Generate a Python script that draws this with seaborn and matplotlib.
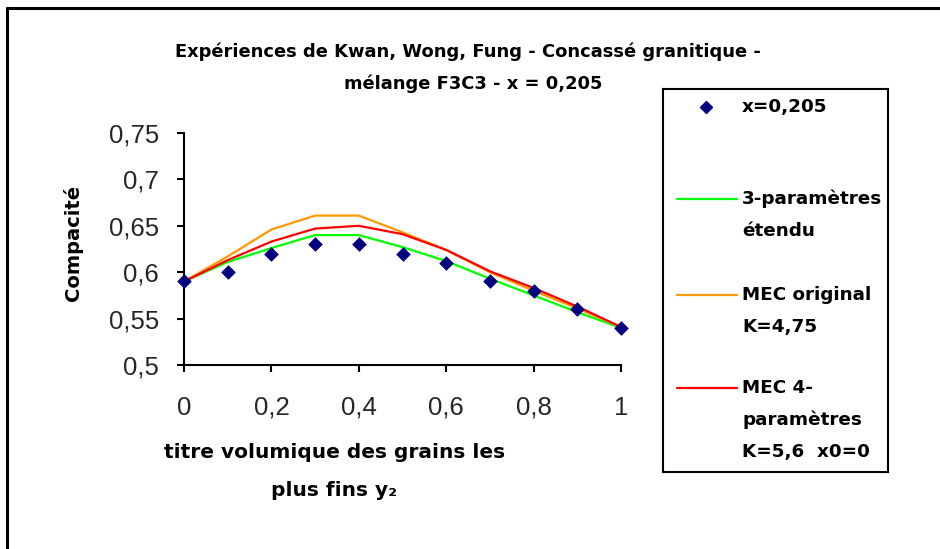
import matplotlib
matplotlib.use('Agg')
import matplotlib.pyplot as plt
import seaborn as sns
from matplotlib.lines import Line2D

# titre volumique des grains les plus fins
y2 = [0.0, 0.1, 0.2, 0.3, 0.4, 0.5, 0.6, 0.7, 0.8, 0.9, 1.0]
# experimental points, x = 0,205
measured = [0.59, 0.60, 0.62, 0.63, 0.63, 0.62, 0.61, 0.59, 0.58, 0.56, 0.54]
# model curves
three_param = [0.59, 0.611, 0.626, 0.640, 0.640, 0.627, 0.612, 0.593, 0.575, 0.557, 0.54]
mec_original = [0.59, 0.617, 0.646, 0.661, 0.661, 0.643, 0.624, 0.600, 0.580, 0.561, 0.541]
mec_4param = [0.59, 0.613, 0.633, 0.647, 0.650, 0.641, 0.624, 0.601, 0.583, 0.563, 0.541]

y_ticks = [0.5, 0.55, 0.6, 0.65, 0.7, 0.75]
y_tick_labels = ['0,5', '0,55', '0,6', '0,65', '0,7', '0,75']
x_ticks = [0, 0.2, 0.4, 0.6, 0.8, 1.0]
x_tick_labels = ['0', '0,2', '0,4', '0,6', '0,8', '1']

sns.set_theme(style='white')
plt.rcParams['font.family'] = ['DejaVu Sans']

W, H = 940, 549
fig = plt.figure(figsize=(W / 100, H / 100), dpi=100)


def fx(px):
    return px / W


def fy(py):
    return 1 - py / H


ax = fig.add_axes([fx(184), fy(365), fx(621) - fx(184), fy(133) - fy(365)])

sns.lineplot(x=y2, y=three_param, ax=ax, color='#00ff00', lw=1.6)
sns.lineplot(x=y2, y=mec_original, ax=ax, color='#ff9900', lw=1.6)
sns.lineplot(x=y2, y=mec_4param, ax=ax, color='#ff0000', lw=1.6)
sns.scatterplot(x=y2, y=measured, ax=ax, marker='D', s=48, color='#000080',
                edgecolor='#000080', linewidth=0.5, clip_on=False, zorder=5)
for line in ax.lines:
    line.set_clip_on(False)

ax.set_xlim(0, 1)
ax.set_ylim(0.5, 0.75)
ax.set_xticks(x_ticks)
ax.set_xticklabels(x_tick_labels, family='Liberation Sans', fontsize=18.5)
ax.set_yticks(y_ticks)
ax.set_yticklabels(y_tick_labels, family='Liberation Sans', fontsize=18.5)
ax.tick_params(axis='both', direction='out', length=5, width=1.5, color='black',
               bottom=True, left=True)
ax.tick_params(axis='x', pad=17)
ax.tick_params(axis='y', pad=13)
for side in ['top', 'right']:
    ax.spines[side].set_visible(False)
for side in ['left', 'bottom']:
    ax.spines[side].set_color('black')
    ax.spines[side].set_linewidth(1.5)
ax.set_xlabel('')
ax.set_ylabel('')

# titles and axis labels
bold = dict(fontweight='bold', color='black', ha='center', va='center')
fig.text(fx(468), fy(52), 'Expériences de Kwan, Wong, Fung - Concassé granitique -',
         fontsize=12.9, **bold)
fig.text(fx(473), fy(84), 'mélange F3C3 - x = 0,205', fontsize=12.9, **bold)
fig.text(fx(73), fy(243), 'Compacité', rotation=90, fontsize=14, **bold)
fig.text(fx(335), fy(452), 'titre volumique des grains les', fontsize=14.5, **bold)
fig.text(fx(334), fy(490), 'plus fins y₂', fontsize=14.5, **bold)

# legend box
lx0, ly0, lx1, ly1 = 663, 89, 888, 472
lax = fig.add_axes([fx(lx0), fy(ly1), fx(lx1) - fx(lx0), fy(ly0) - fy(ly1)])
lax.set_xlim(0, lx1 - lx0)
lax.set_ylim(ly1 - ly0, 0)
lax.set_xticks([])
lax.set_yticks([])
lax.set_facecolor('white')
for sp in lax.spines.values():
    sp.set_visible(True)
    sp.set_color('black')
    sp.set_linewidth(1.5)

lax.plot([43], [18], marker='D', ms=6.5, color='#000080', ls='none')
entries = [
    ('#00ff00', 110, ['3-paramètres', 'étendu']),
    ('#ff9900', 206, ['MEC original', 'K=4,75']),
    ('#ff0000', 299, ['MEC 4-', 'paramètres', 'K=5,6  x0=0']),
]
leg_font = dict(fontweight='bold', fontsize=13.2, ha='left', va='center', color='black')
lax.text(79, 18, 'x=0,205', **leg_font)
for col, yy, lines in entries:
    lax.plot([14, 74], [yy, yy], color=col, lw=1.6)
    for i, txt in enumerate(lines):
        lax.text(79, yy + i * 32, txt, **leg_font)

# outer chart frame (left and top edges visible)
fig.add_artist(Line2D([fx(7.5), fx(7.5)], [0, fy(8)], color='black', lw=2.2))
fig.add_artist(Line2D([fx(7.5), 1], [fy(8), fy(8)], color='black', lw=2.2))

fig.savefig('out.png', dpi=100)
